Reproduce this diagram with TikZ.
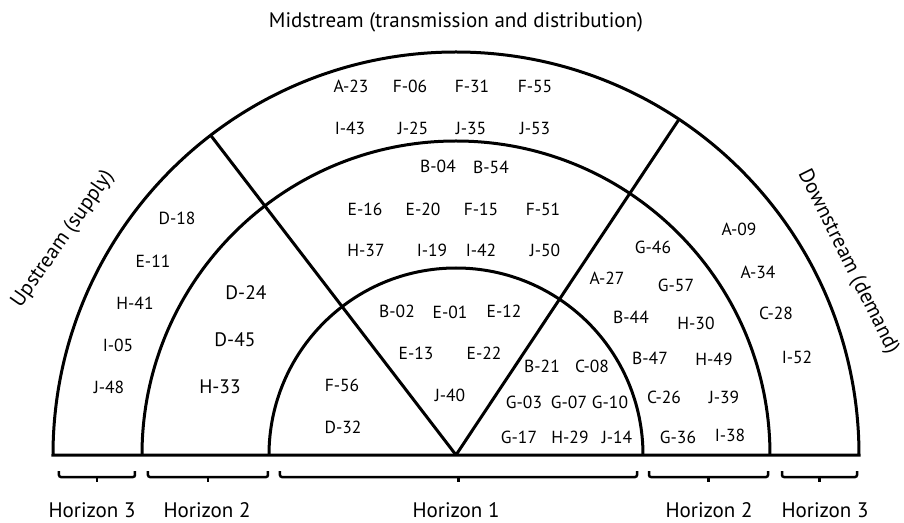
\documentclass[tikz,border=0pt]{standalone}
\usepackage{fontspec}
\setmainfont{PT Sans}

\begin{document}
\begin{tikzpicture}[x=1pt, y=1pt,
  ring/.style={line width=3pt},
  tag/.style={font=\fontsize{17.5}{19}\selectfont, inner sep=0pt},
  bigtag/.style={font=\fontsize{19.5}{21}\selectfont, inner sep=0pt},
  head/.style={font=\fontsize{21}{24}\selectfont, inner sep=0pt},
  brace/.style={line width=2.5pt, rounded corners=2pt}
]
\useasboundingbox (-456,-67) rectangle (448,455);
% half rings and sector borders
\coordinate (hub) at (0,0);
\draw[ring] (-403,0) arc[start angle=180, end angle=0, radius=403pt] -- cycle;
\draw[ring] (-314,0) arc[start angle=180, end angle=0, radius=314pt];
\draw[ring] (-187,0) arc[start angle=180, end angle=0, radius=187pt];
\draw[ring] (hub) -- (127.5:402);
\draw[ring] (hub) -- (56.4:402);
% midstream, outer and inner band
\foreach \t/\x/\y in {A-23/-105/369, F-06/-46/369, F-31/16/369, F-55/79/369,
                      I-43/-106/327, J-25/-43/327, J-35/15/327, J-53/79/327,
                      B-04/-18/289, B-54/35/288,
                      E-16/-91/246, E-20/-33/246, F-15/25/246, F-51/87/246,
                      H-37/-90/205, I-19/-24/205, I-42/25/205, J-50/89/205,
                      B-02/-59/144, E-01/-6/143, E-12/48/144,
                      E-13/-40/102, E-22/28/102, J-40/-6/60}
  \node[tag] (\t) at (\x,\y) {\t};
% upstream
\foreach \t/\x/\y in {D-18/-279/237, E-11/-303/194, H-41/-321/152,
                      I-05/-338/110, J-48/-347/68, F-56/-114/70, D-32/-113/28}
  \node[tag] (\t) at (\x,\y) {\t};
\foreach \t/\x/\y in {D-24/-210/162, D-45/-221/115, H-33/-236/68}
  \node[bigtag] (\t) at (\x,\y) {\t};
% downstream
\foreach \t/\x/\y in {B-21/86/89, C-08/136/89,
                      G-03/68/53, G-07/113/53, G-10/154/53,
                      G-17/63/18, H-29/114/18, J-14/161/18,
                      G-46/197/208, A-27/151/177, G-57/220/170,
                      B-44/175/138, H-30/240/132, B-47/194/97, H-49/258/96,
                      C-26/208/58, J-39/268/58, G-36/222/18, I-38/274/20,
                      A-09/283/226, A-34/302/183, C-28/320/142, I-52/341/98}
  \node[tag] (\t) at (\x,\y) {\t};
% headings
\node[head] (mid) at (0,433) {Midstream (transmission and distribution)};
\node[head, rotate=55] (up) at (-393,216) {Upstream (supply)};
\node[head, rotate=-63.5] (down) at (392,193) {Downstream (demand)};
% horizon brackets
\foreach \a/\b in {-397/-321, -308/-188, -176/181, 193/312, 326/401} {
  \draw[brace] (\a,-16) -- (\a,-22) -- (\b,-22) -- (\b,-16);
  \draw[brace] ({(\a+\b)/2},-22) -- ({(\a+\b)/2},-27);
}
\node[head] (h3l) at (-364,-55) {Horizon 3};
\node[head] (h2l) at (-249,-55) {Horizon 2};
\node[head] (h1) at (0,-55) {Horizon 1};
\node[head] (h2r) at (253,-55) {Horizon 2};
\node[head] (h3r) at (369,-55) {Horizon 3};
\end{tikzpicture}
\end{document}
